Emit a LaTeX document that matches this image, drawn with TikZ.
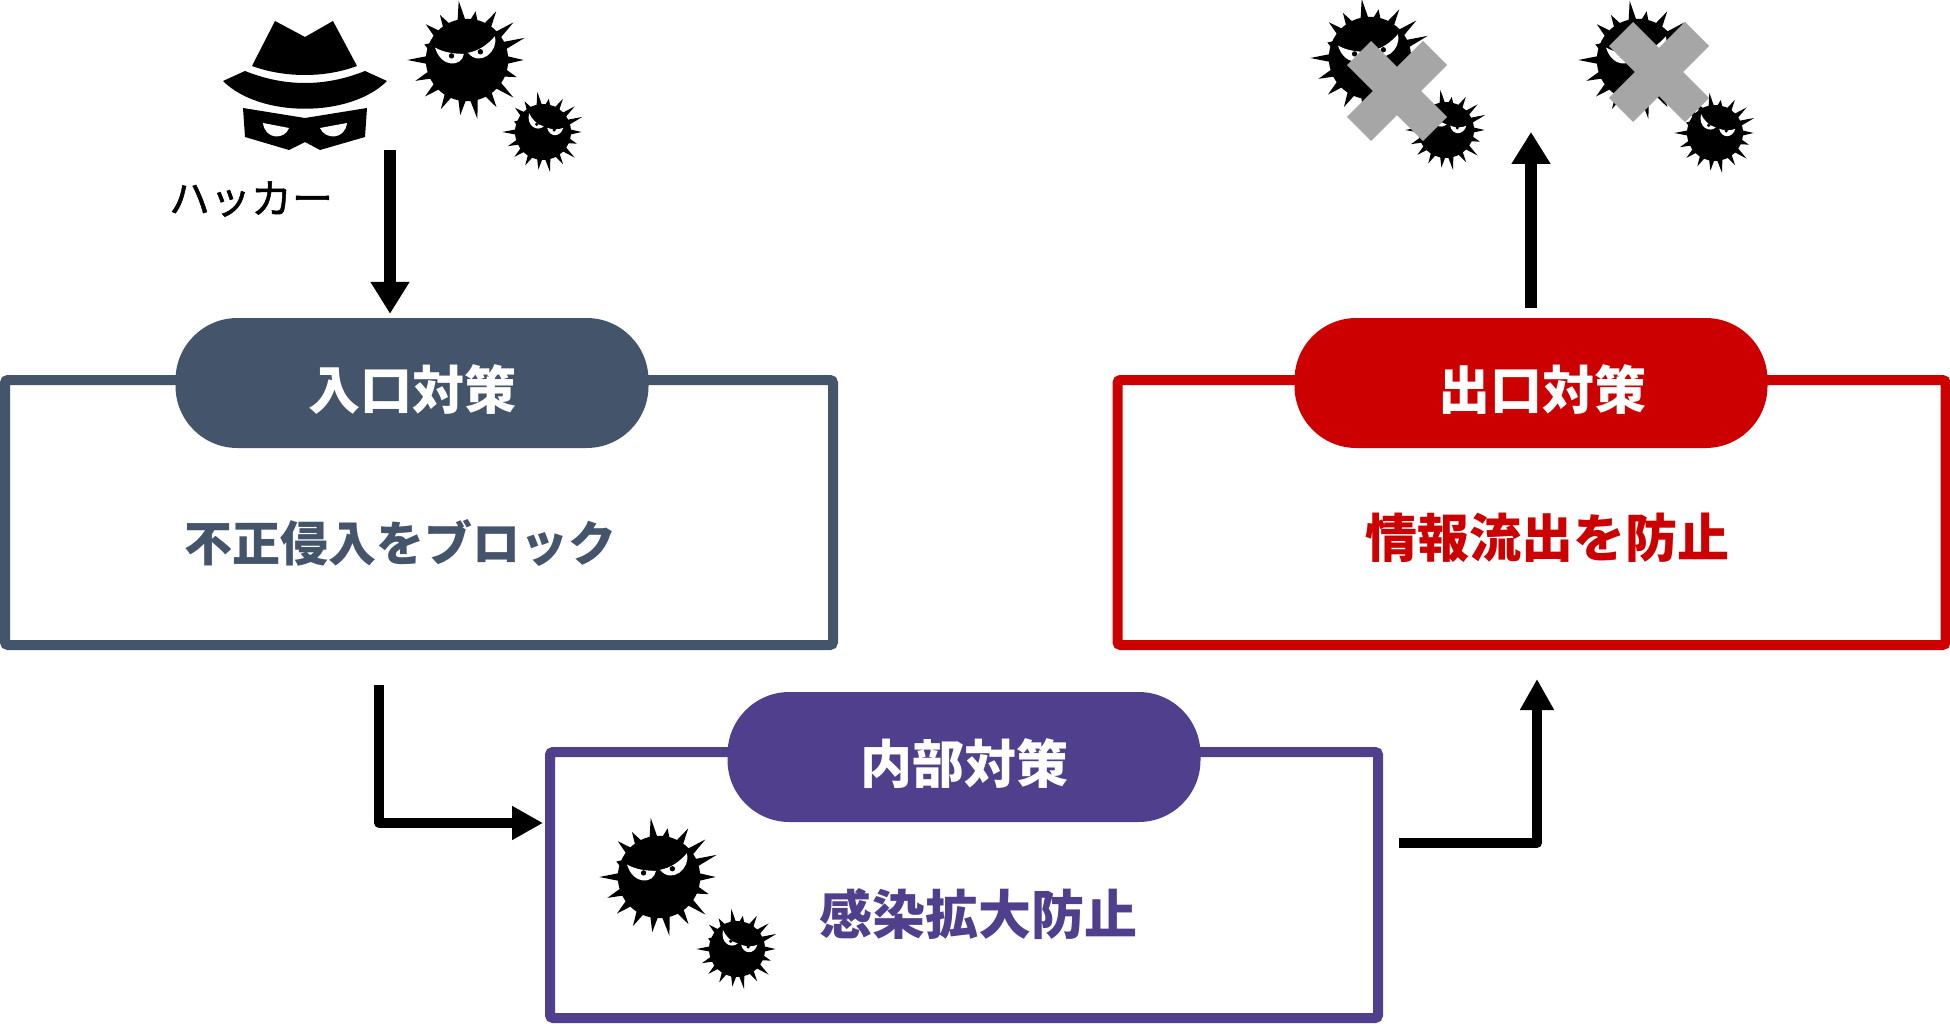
\documentclass[tikz,border=0pt]{standalone}
\usepackage{fontspec}
\setmainfont{Noto Sans CJK JP}
\newfontfamily\hackerfont[FakeBold=1.2]{Noto Sans CJK JP}
\usetikzlibrary{arrows.meta}

\definecolor{entrycol}{HTML}{44546A}
\definecolor{innercol}{HTML}{503F8C}
\definecolor{exitcol}{HTML}{CC0000}
\definecolor{crosscol}{HTML}{A6A6A6}

\newcommand{\viruspikes}{%
  \fill (0,0) circle (40);
  \foreach \a/\r in {-98/58,-80/48,-59/55,-39/58,-21/60,0/55,19/51,39/58,58/54,80/58,97/54,118/54,139/54,158/54,180/58,200/44,221/53,239/51}
    \fill (\a-6:38) -- (\a:\r) -- (\a+6:38) -- cycle;
}

\tikzset{
  viruslarge/.pic={
    \viruspikes
    \fill[white] (-31,-12) .. controls (-22,-7) and (-12,-6) .. (-3,-6) .. controls (-5,7) and (-25,8) .. cycle;
    \fill[white] (1,-7) .. controls (12,-9) and (20,-15) .. (27,-23) .. controls (31,-8) and (12,7) .. cycle;
    \fill (-15,-4) circle (2.6);
    \fill (13,-8) circle (2.6);
  },
  virussmall/.pic={
    \viruspikes
    \fill[white] (-20,-27) .. controls (-16,-18) and (-8,-10) .. (1,-8) .. controls (-8,0) and (-24,-8) .. cycle;
    \fill[white] (6,-6) .. controls (14,-3) and (22,-3) .. (29,-6) .. controls (25,8) and (9,8) .. cycle;
    \fill (-9,-11) circle (2.6);
    \fill (16,-3) circle (2.6);
  },
  crossmark/.pic={
    \draw[crosscol, line width=34pt] (-38,-38) -- (38,38);
    \draw[crosscol, line width=34pt] (38,-38) -- (-38,38);
  }
}

\begin{document}
\begin{tikzpicture}[
x=1pt, y=-1pt,
boxframe/.style={draw=#1, fill=white, line width=10pt, rounded corners=3pt, minimum width=828pt, minimum height=265pt, inner sep=0pt, outer sep=0pt},
pillhead/.style={fill=#1, text=white, rounded corners=62pt, minimum width=473pt, minimum height=130pt, inner sep=0pt, text height=58pt, text depth=6pt, font=\fontsize{52}{60}\selectfont\bfseries},
boxtext/.style={text=#1, inner sep=0pt, font=\fontsize{52}{60}\selectfont\bfseries},
thickarrow/.style={draw=black, line width=12.5pt, -{Triangle[length=32pt,width=37pt]}},
elbowarrow/.style={draw=black, line width=9.5pt, line join=round, -{Triangle[length=31pt,width=32pt]}}
]
\useasboundingbox (0,0) rectangle (1950,1024);

% ================= Boxes and headings =================

\node[boxframe=entrycol] (entrybox) at (419,512.5) {};
\node[boxframe=exitcol] (exitbox) at (1531.5,512.5) {};
\node[boxframe=innercol, minimum height=266pt] (innerbox) at (964,885) {};

\node[pillhead=entrycol] (entrypill) at (412,383) {入口対策};
\node[pillhead=exitcol] (exitpill) at (1531,383) {\hspace*{22pt}出口対策};
\node[pillhead=innercol] (innerpill) at (964,757) {内部対策};

% Text inside the boxes
\node[boxtext=entrycol, font=\fontsize{48}{60}\selectfont\bfseries] (entrytext) at (400,543) {不正侵入をブロック};
\node[boxtext=exitcol] (exittext) at (1547,538) {情報流出を防止};
\node[boxtext=innercol, font=\fontsize{53}{60}\selectfont\bfseries] (innertext) at (978,914) {感染拡大防止};

% ================= Hacker =================

\fill (275,21) -- (305,37) -- (333,21) -- (357,66) .. controls (325,78) and (285,78) .. (252,66) -- cycle;
\fill (223,81) -- (245,71) .. controls (285,87) and (325,87) .. (365,71) -- (387,81) .. controls (350,118) and (260,118) .. cycle;
\fill (243,108) -- (305,118) -- (367,108) -- (365,137) -- (320,150) -- (305,142) -- (289,150) -- (245,137) -- cycle;
\fill[white] (263,123) -- (289,128) .. controls (285,140) and (265,140) .. cycle;
\fill[white] (320,128) -- (347,123) .. controls (345,140) and (325,140) .. cycle;

\node[inner sep=0pt, font=\fontsize{41}{48}\selectfont\hackerfont] (hackerlabel) at (251,199) {ハッカー};

% ================= Viruses =================

\pic[scale=1.03] at (467,60) {viruslarge};
\pic[scale=.7] at (543,132) {virussmall};

\pic[scale=1.03] at (659,877) {viruslarge};
\pic[scale=.7] at (737,949) {virussmall};

\pic[scale=1.03] at (1370,58) {viruslarge};
\pic[scale=.7] at (1446,130) {virussmall};
\pic at (1397,91) {crossmark};

\pic[scale=1.03] at (1638,60) {viruslarge};
\pic[scale=.7] at (1715,133) {virussmall};
\pic at (1659,72) {crossmark};

% ================= Arrows =================

\coordinate (attackstart) at (390,150);
\coordinate (leakstart) at (1531,308);
\coordinate (leakend) at (1531,132);
\coordinate (dropstart) at (379,685);
\coordinate (dropend) at (543,823);
\coordinate (riserstart) at (1399,843);
\coordinate (riserend) at (1537,679);

\draw[thickarrow, shorten >=4pt] (attackstart) -- (attackstart |- entrypill.north);
\draw[thickarrow] (leakstart) -- (leakend);
\draw[elbowarrow] (dropstart) |- (dropend);
\draw[elbowarrow] (riserstart) -| (riserend);

\end{tikzpicture}
\end{document}
